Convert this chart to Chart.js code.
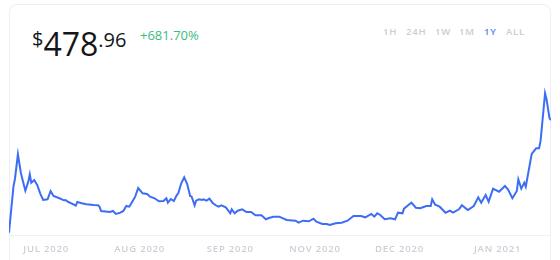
<!DOCTYPE html>
<html lang="en">
<head>
  <meta charset="UTF-8">
  <title>Price 1Y</title>
  <style>
    body {
      margin: 0;
      width: 560px;
      height: 260px;
      background: #fff;
      font-family: "Open Sans", Arial, sans-serif;
      overflow: hidden;
      position: relative;
    }
    .card {
      position: absolute;
      left: 9px;
      top: 4px;
      width: 540px;
      height: 270px;
      border: 1px solid #eceef2;
      border-radius: 8px;
    }
    .price {
      position: absolute;
      left: 32px;
      top: 22px;
      color: #14161a;
      white-space: nowrap;
    }
    .price .cur { font-size: 20px; vertical-align: top; position: relative; top: 3px; }
    .price .int { font-size: 32px; line-height: 44px; }
    .price .dec { font-size: 20px; vertical-align: top; position: relative; top: 4px; }
    .change {
      position: absolute;
      left: 140px;
      top: 26px;
      font-size: 13px;
      color: #3dbb7d;
    }
    .ranges span {
      position: absolute;
      top: 25px;
      font-size: 9.5px;
      font-weight: 600;
      letter-spacing: 0.8px;
      color: #c9cdd5;
    }
    .ranges .on { color: #5a7cf6; }
    #chartBox {
      position: absolute;
      left: 9px;
      top: 85px;
      width: 542px;
      height: 175px;
    }
  </style>
</head>
<body>
  <div class="card"></div>
  <div class="price"><span class="cur">$</span><span class="int">478</span><span class="dec">.96</span></div>
  <div class="change">+681.70%</div>
  <div class="ranges">
    <span style="left:383px">1H</span>
    <span style="left:406px">24H</span>
    <span style="left:435px">1W</span>
    <span style="left:459px">1M</span>
    <span class="on" style="left:484px">1Y</span>
    <span style="left:506px">ALL</span>
  </div>
  <div id="chartBox"><canvas id="priceChart"></canvas></div>

  <script src="https://cdn.jsdelivr.net/npm/chart.js"></script>
  <script>
    // day offset within the year window, and price in USD
    const days = [0,3,4,6,8,11,13,14,15,17,
      19,21,23,26,28,30,34,37,38,40,
      42,45,46,49,52,57,60,61,62,68,
      70,72,75,77,79,81,83,85,87,90,
      93,95,98,101,104,106,107,109,111,113,
      114,116,118,120,122,123,125,126,128,130,
      131,133,135,137,139,141,143,146,149,150,
      152,154,157,160,163,166,170,173,175,178,
      182,187,193,195,198,202,205,207,211,214,
      216,220,224,228,232,237,240,244,246,248,
      250,253,257,260,262,265,266,269,271,274,
      277,281,284,285,287,290,294,297,299,303,
      305,309,313,316,318,321,323,326,330,334,
      336,339,342,343,345,347,348,352,355,357,
      358,361,362,364,365];
    const prices = [61.3,231.8,260.3,351.8,282.5,216.9,250.3,277.7,246.6,256.6,
      238.0,207.3,182.5,185.1,215.8,197.3,188.8,181.3,182.5,175.0,
      170.2,161.3,175.0,170.2,166.5,163.9,162.8,157.6,141.7,138.0,
      141.7,130.6,135.4,141.7,160.2,157.6,176.2,194.7,226.9,207.3,
      204.7,194.7,188.8,177.6,178.8,188.8,172.4,186.2,178.8,201.0,
      207.3,244.3,266.6,241.8,197.3,194.7,162.8,179.9,185.1,182.5,
      185.1,179.9,187.3,172.4,163.9,157.6,162.8,155.4,133.2,148.0,
      133.2,142.8,148.0,138.0,138.0,125.8,125.8,111.0,115.8,120.6,
      120.6,108.4,105.7,98.3,105.7,103.5,113.2,102.0,93.5,93.5,
      89.8,96.1,98.3,105.7,123.2,123.2,118.3,130.6,120.6,133.2,
      126.9,111.0,114.6,111.0,135.4,133.2,150.2,163.9,172.4,153.9,
      151.7,160.2,160.2,185.1,165.1,157.6,135.4,142.8,135.4,148.0,
      162.8,145.4,160.2,192.5,172.4,201.0,176.2,224.4,213.2,234.4,
      222.1,188.8,215.8,259.2,224.4,246.6,231.8,353.0,374.1,374.1,
      402.2,577.9,555.6,485.2,478.96];

    const tickDays = [25, 88, 149, 206, 263, 329];
    const tickLabels = ['JUL 2020', 'AUG 2020', 'SEP 2020', 'NOV 2020', 'DEC 2020', 'JAN 2021'];

    const points = days.map((d, i) => ({ x: d, y: prices[i] }));

    // tick labels are letter-spaced in the original
    const spacing = {
      id: 'spacing',
      beforeDraw: (chart) => { chart.ctx.letterSpacing = '0.8px'; }
    };

    const ctx = document.getElementById('priceChart').getContext('2d');
    new Chart(ctx, {
      type: 'line',
      data: {
        datasets: [{
          data: points,
          borderColor: '#3d6df5',
          borderWidth: 2,
          pointRadius: 0,
          tension: 0,
          fill: false
        }]
      },
      options: {
        responsive: true,
        maintainAspectRatio: false,
        animation: false,
        layout: { padding: 0 },
        plugins: { legend: { display: false }, tooltip: { enabled: false } },
        scales: {
          x: {
            type: 'linear',
            min: 0,
            max: 365,
            afterBuildTicks: (scale) => {
              scale.ticks = tickDays.map(v => ({ value: v }));
            },
            afterFit: (scale) => { scale.height = 25; },
            grid: { display: false, drawTicks: false },
            border: { display: true, color: '#eef0f4', width: 1 },
            ticks: {
              autoSkip: false,
              maxRotation: 0,
              padding: 9,
              color: '#cbcfd6',
              font: { family: 'Open Sans', size: 9.5, weight: '600' },
              callback: (v, i) => tickLabels[i]
            }
          },
          y: {
            display: false,
            min: 52.7,
            max: 608.6
          }
        }
      },
      plugins: [spacing]
    });
  </script>
</body>
</html>
